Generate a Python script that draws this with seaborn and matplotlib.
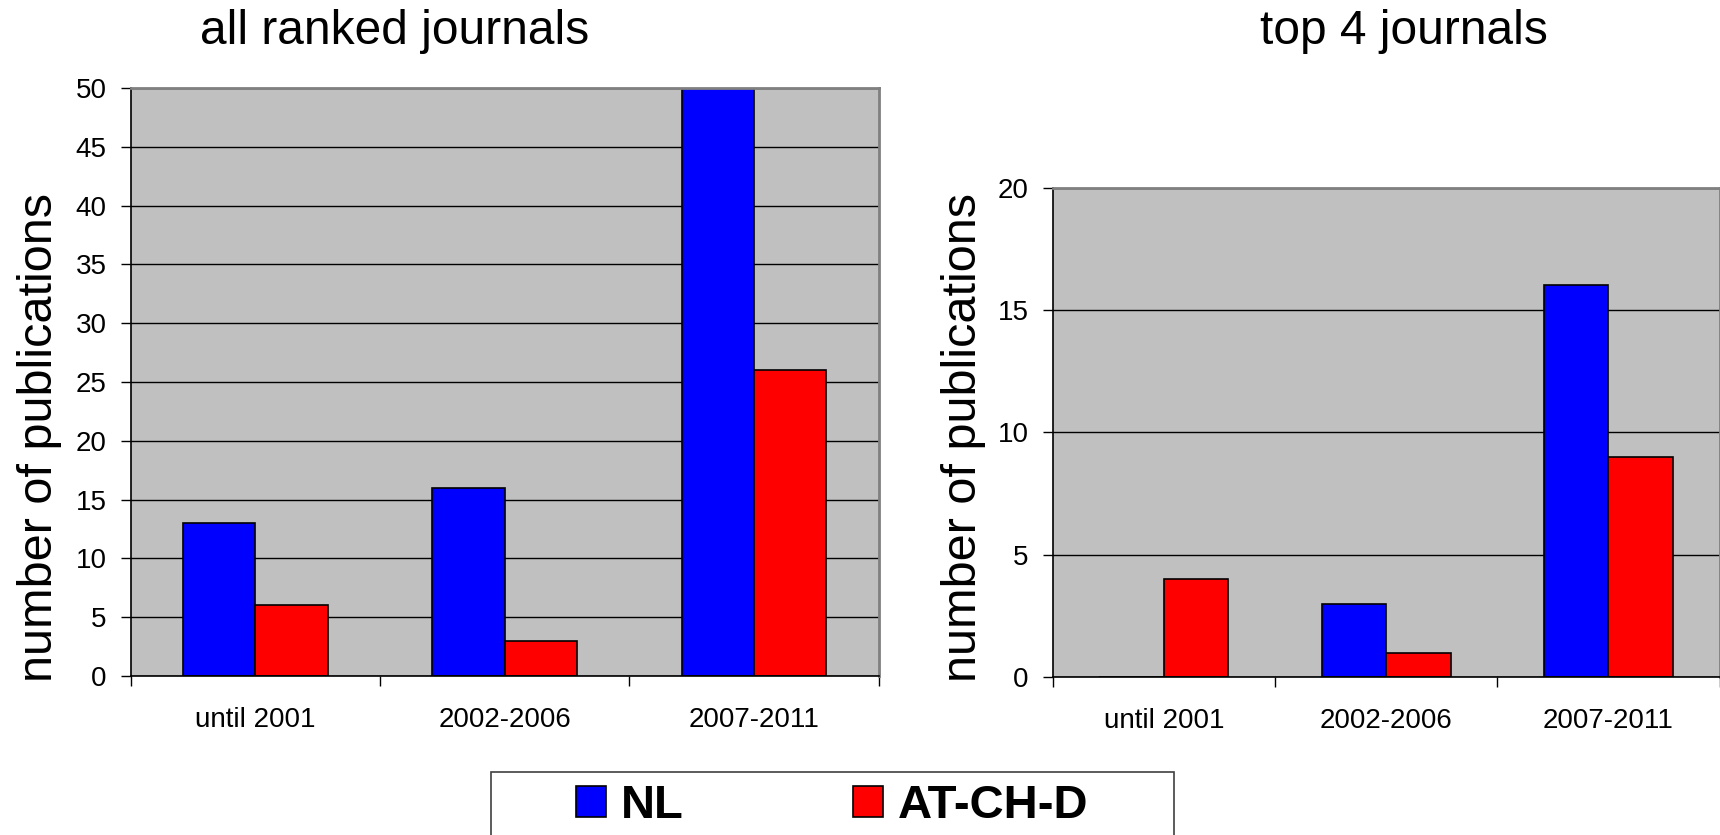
import pandas as pd
import matplotlib.pyplot as plt
import seaborn as sns
from matplotlib.patches import Rectangle

# Publication counts
periods = ["until 2001", "2002-2006", "2007-2011"]
groups = ["NL", "AT-CH-D"]
all_nl = [13, 16, 50]
all_atchd = [6, 3, 26]
top4_nl = [0, 3, 16]
top4_atchd = [4, 1, 9]

colors = {"NL": "#0000FF", "AT-CH-D": "#FF0000"}


def long_form(nl, atchd):
    return pd.DataFrame({
        "period": periods * 2,
        "group": ["NL"] * len(periods) + ["AT-CH-D"] * len(periods),
        "count": nl + atchd,
    })


sns.set_style("white")
plt.rcParams["font.family"] = ["Liberation Sans", "DejaVu Sans"]
plt.rcParams["text.color"] = "black"
plt.rcParams["xtick.color"] = "black"
plt.rcParams["ytick.color"] = "black"
plt.rcParams["axes.labelcolor"] = "black"

W, H = 1720, 835
fig = plt.figure(figsize=(W / 100, H / 100), dpi=100)


def px_axes(x0, y0, x1, y1):
    return fig.add_axes([x0 / W, 1 - y1 / H, (x1 - x0) / W, (y1 - y0) / H])


def style_panel(ax, df, ymax):
    sns.barplot(data=df, x="period", y="count", hue="group", hue_order=groups,
                order=periods, palette=colors, width=0.58, gap=0,
                edgecolor="black", linewidth=1.2, saturation=1, ax=ax)
    ax.set_facecolor("#C0C0C0")
    ax.set_xlim(-0.5, 2.5)
    ax.set_ylim(0, ymax)
    ax.set_yticks(range(0, ymax + 1, 5))
    ax.yaxis.grid(True, color="black", linewidth=1)
    ax.set_axisbelow(True)
    # category boundaries as major ticks, labels on minor ticks at centres
    ax.set_xticks([-0.5, 0.5, 1.5, 2.5])
    ax.set_xticklabels([])
    ax.set_xticks([0, 1, 2], minor=True)
    ax.set_xticklabels(periods, minor=True)
    ax.tick_params(axis="x", which="major", direction="out", length=7.5,
                   width=1, color="black", bottom=True)
    ax.tick_params(axis="x", which="minor", length=0, pad=22, labelsize=20,
                   labelcolor="black")
    ax.tick_params(axis="y", direction="out", length=7.5, width=1,
                   color="black", left=True, pad=10, labelsize=20,
                   labelcolor="black")
    ax.set_xlabel("")
    ax.set_ylabel("")
    for side in ["left", "bottom"]:
        ax.spines[side].set_color("black")
        ax.spines[side].set_linewidth(1.2)
    for side in ["top", "right"]:
        ax.spines[side].set_color("#808080")
        ax.spines[side].set_linewidth(2)


ax1 = px_axes(130.7, 88, 878.6, 676)
style_panel(ax1, long_form(all_nl, all_atchd), 50)

ax2 = px_axes(1052.7, 187.5, 1719.6, 677)
style_panel(ax2, long_form(top4_nl, top4_atchd), 20)

leg = ax1.get_legend()
handles = leg.legend_handles
labels = [t.get_text() for t in leg.get_texts()]
leg.remove()
ax2.get_legend().remove()

# titles and axis labels placed in figure pixels
fig.text(395 / W, 1 - 31 / H, "all ranked journals", ha="center", va="center", fontsize=34.5)
fig.text(1404 / W, 1 - 31 / H, "top 4 journals", ha="center", va="center", fontsize=34.5)
fig.text(40 / W, 1 - 437 / H, "number of publications", rotation=90,
         ha="center", va="center", fontsize=35)
fig.text(963 / W, 1 - 437 / H, "number of publications", rotation=90,
         ha="center", va="center", fontsize=35)

# legend box running off the bottom edge
fig.add_artist(Rectangle((491 / W, -0.1), (1174 - 491) / W, (835 - 772) / H + 0.1,
                         transform=fig.transFigure, fill=False,
                         edgecolor="#404040", linewidth=1.2))
fig.legend(handles, labels, loc="center left",
           bbox_to_anchor=(576 / W, 1 - 806 / H), ncol=2, frameon=False,
           prop={"weight": "bold", "size": 34}, handlelength=0.64,
           handleheight=0.64, handletextpad=0.3, columnspacing=3.6,
           borderpad=0, borderaxespad=0)

fig.savefig("out.png", dpi=100)
